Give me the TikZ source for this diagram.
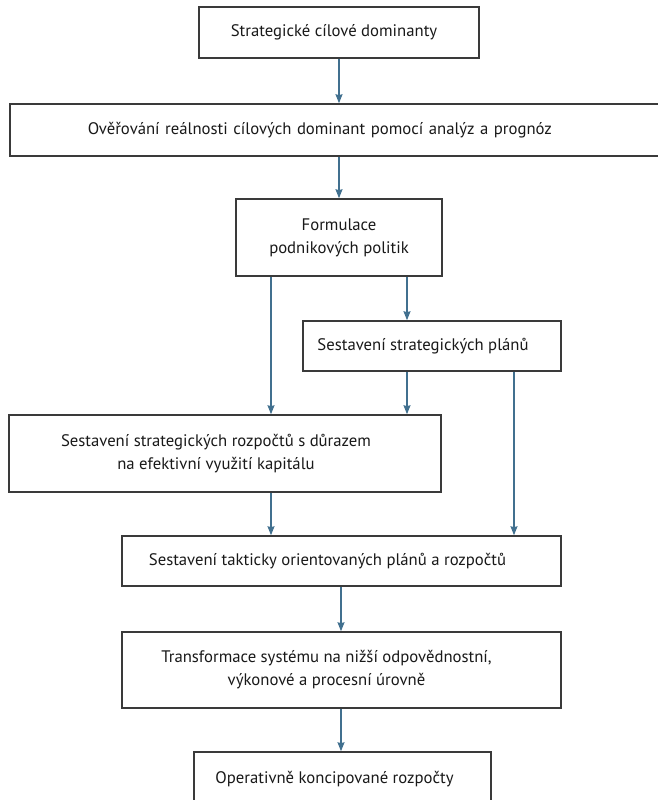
\documentclass[tikz,border=0pt]{standalone}
\usepackage{fontspec}
\setmainfont{PT Sans}
\usepackage{tikz}
\usetikzlibrary{positioning, arrows.meta}
\definecolor{boxgray}{HTML}{3A3A3A}
\definecolor{arrowblue}{HTML}{41708F}
\tikzset{
	stepnode/.style={
			rectangle,
			draw=boxgray,
			line width=1.6pt,
			fill=white,
			align=center,
			text=black!90,
			font=\fontsize{16.7}{23}\selectfont
		},
	steptext/.style={
			align=center,
			text=black!90,
			font=\fontsize{16.7}{23}\selectfont
		},
	flowarrow/.style={
			draw=arrowblue,
			line width=1.2pt,
			-{Stealth[length=9pt, width=7pt, inset=1pt]}
		}
}
\begin{document}
\begin{tikzpicture}[x=1pt, y=-1pt]
\useasboundingbox (0,0) rectangle (658,800);

\node[stepnode, minimum width=280, minimum height=51,
	label={[steptext, xshift=-5pt]center:Strategické cílové dominanty}] (dom) at (339,32.5) {};
\node[stepnode, anchor=west, minimum height=52, text width=535pt, align=left, inner xsep=78pt] (over) at (9,130) {Ověřování reálnosti cílových dominant pomocí analýz a prognóz};
\node[stepnode, minimum width=206, minimum height=77] (form) at (339,237.5) {Formulace\\podnikových politik};
\node[stepnode, minimum width=258, minimum height=50,
	label={[steptext, xshift=-9pt]center:Sestavení strategických plánů}] (plany) at (432,346) {};
\node[stepnode, minimum width=432, minimum height=77,
	label={[steptext, xshift=-9pt]center:Sestavení strategických rozpočtů s důrazem\\na efektivní využití kapitálu}] (rozp) at (225,453.5) {};
\node[stepnode, minimum width=439, minimum height=50,
	label={[steptext, xshift=-14pt]center:Sestavení takticky orientovaných plánů a rozpočtů}] (takt) at (341.5,561) {};
\node[stepnode, minimum width=439, minimum height=76,
	label={[steptext, xshift=-15pt]center:{Transformace systému na nižší odpovědnostní,\\výkonové a procesní úrovně}}] (trans) at (341.5,670) {};
\node[stepnode, minimum width=297, minimum height=54,
	label={[steptext, xshift=-8pt]center:Operativně koncipované rozpočty}] (oper) at (342.5,779) {};

% columns of the vertical connectors
\coordinate (colA) at (271,0);
\coordinate (colB) at (407,0);
\coordinate (colC) at (514,0);
\coordinate (colN) at (341,0);

\draw[flowarrow] (dom.south) -- (dom.south |- over.north);
\draw[flowarrow] (form.north |- over.south) -- (form.north);

\draw[flowarrow] (form.south -| colA) -- (rozp.north -| colA);
\draw[flowarrow] (form.south -| colB) -- (plany.north -| colB);
\draw[flowarrow] (plany.south -| colB) -- (rozp.north -| colB);
\draw[flowarrow] (plany.south -| colC) -- (takt.north -| colC);
\draw[flowarrow] (rozp.south -| colA) -- (takt.north -| colA);

\draw[flowarrow] (takt.south -| colN) -- (trans.north -| colN);
\draw[flowarrow] (trans.south -| colN) -- (oper.north -| colN);

\end{tikzpicture}
\end{document}
